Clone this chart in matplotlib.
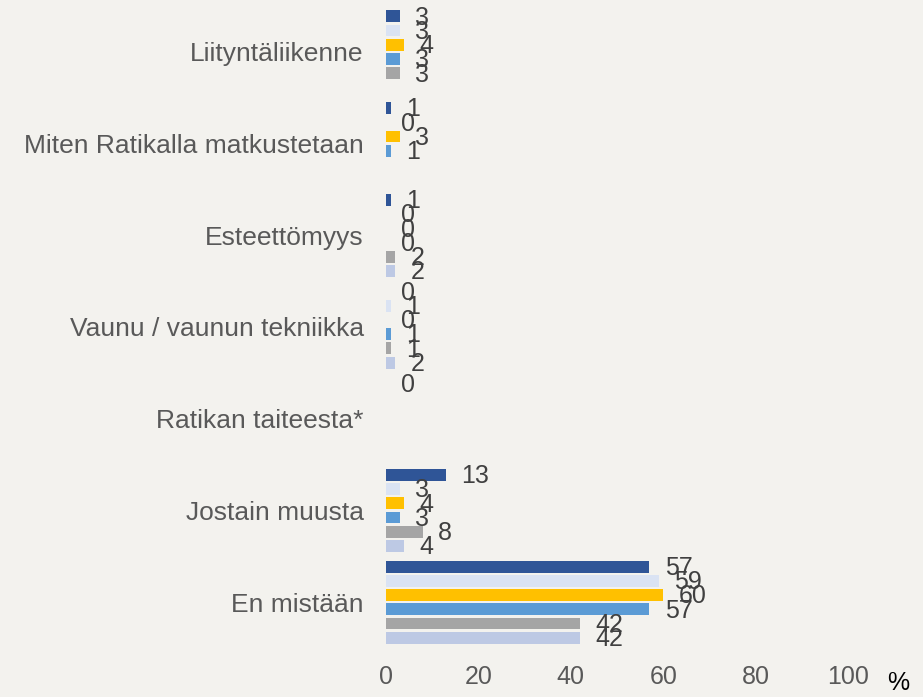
import numpy as np
import matplotlib
matplotlib.use("Agg")
import matplotlib.pyplot as plt

categories = [
    "Liityntäliikenne",
    "Miten Ratikalla matkustetaan",
    "Esteettömyys",
    "Vaunu / vaunun tekniikka",
    "Ratikan taiteesta*",
    "Jostain muusta",
    "En mistään",
]

nan = np.nan
# six series, one value per category (nan = no bar / no label)
series_1 = [3, 1, 1, 0, 0, 13, 57]
series_2 = [3, 0, 0, 1, nan, 3, 59]
series_3 = [4, 3, 0, 0, nan, 4, 60]
series_4 = [3, 1, 0, 1, nan, 3, 57]
series_5 = [3, nan, 2, 1, nan, 8, 42]
series_6 = [nan, nan, 2, 2, nan, 4, 42]
series = [series_1, series_2, series_3, series_4, series_5, series_6]

colors = ["#2F5597", "#DAE3F3", "#FFC000", "#5B9BD5", "#A5A5A5", "#BDC9E4"]
x_ticks = [0, 20, 40, 60, 80, 100]

bg = "#F3F2EE"
plt.rcParams["font.family"] = ["Liberation Sans", "DejaVu Sans"]

fig = plt.figure(figsize=(9.23, 6.97), dpi=100, facecolor=bg)
ax = fig.add_axes([386 / 923, 1 - 648 / 697, (848 - 386) / 923, (648 - 6) / 697])
ax.set_facecolor(bg)

y = np.arange(len(categories))
slot = 0.155
bar_h = 0.13

for j, vals in enumerate(series):
    vals = np.array(vals, dtype=float)
    ypos = y + (j - 2.5) * slot
    mask = ~np.isnan(vals)
    ax.barh(ypos[mask], vals[mask], height=bar_h, color=colors[j], linewidth=0)
    for yy, v in zip(ypos[mask], vals[mask]):
        ax.annotate(f"{v:.0f}", (v, yy), xytext=(11, -1), textcoords="offset points",
                    ha="left", va="center", fontsize=18, color="#404040")

ax.set_xlim(0, 100)
ax.set_ylim(len(categories) - 0.5, -0.5)
ax.set_yticks(y)
ax.set_yticklabels(categories, fontsize=19, color="#595959")
ax.set_xticks(x_ticks)
ax.set_xticklabels([str(t) for t in x_ticks], fontsize=18, color="#595959")
ax.tick_params(axis="y", length=0, pad=16)
ax.tick_params(axis="x", length=0, pad=12)
for s in ax.spines.values():
    s.set_visible(False)

fig.text(898 / 923, 2 / 697, "%", ha="center", va="bottom", fontsize=18, color="black")

fig.savefig("out.png", dpi=100, facecolor=bg)
